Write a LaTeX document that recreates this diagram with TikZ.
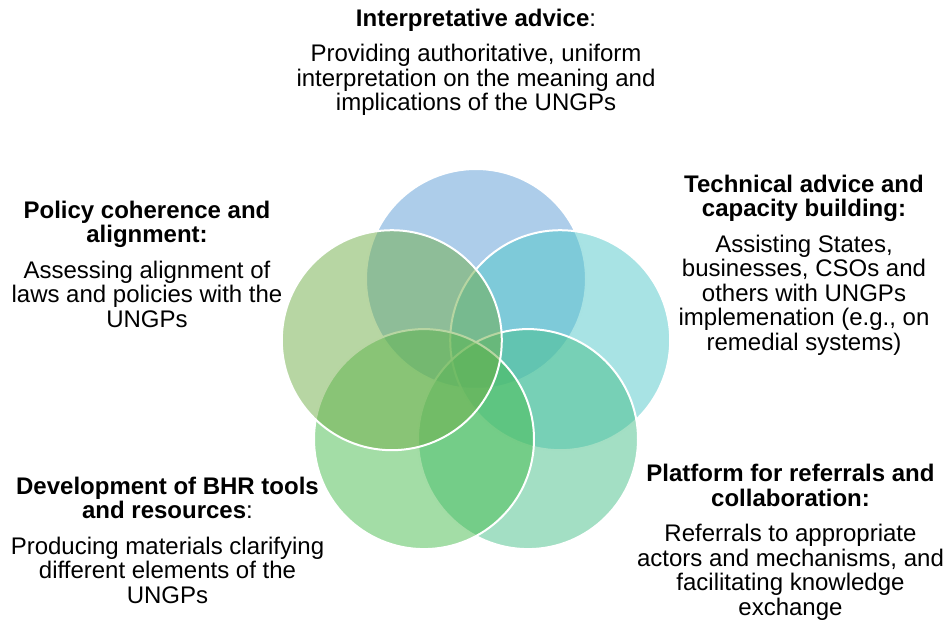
\documentclass[tikz,border=0pt]{standalone}
\usepackage{fontspec}
\setmainfont{Liberation Sans}
\definecolor{cTop}{HTML}{5B9BD5}
\definecolor{cRight}{HTML}{51C7C9}
\definecolor{cLowRight}{HTML}{47BF89}
\definecolor{cLowLeft}{HTML}{47BB4D}
\definecolor{cLeft}{HTML}{70AD47}
\begin{document}
\begin{tikzpicture}[x=1pt, y=-1pt,
  ring/.style={circle, minimum size=220pt, inner sep=0pt, draw=white,
    line width=2pt, fill opacity=0.5},
  % anchored at the baseline of the last line of each block
  blurb/.style={align=center, anchor=base, inner sep=0pt, text=black,
    font=\fontsize{24}{24.5}\selectfont}]
\useasboundingbox (0,0) rectangle (945,620);

% five overlapping circles, drawn clockwise from the top
\node[ring, fill=cTop]      (top)      at (476,279)   {};
\node[ring, fill=cRight]    (right)    at (560.2,340.2) {};
\node[ring, fill=cLowRight] (lowright) at (528,439.1) {};
\node[ring, fill=cLowLeft]  (lowleft)  at (424,439.1) {};
\node[ring, fill=cLeft]     (left)     at (391.8,340.2) {};

% descriptions
\node[blurb] (ttop) at (476,111)
  {\textbf{Interpretative advice}:\\[11pt]Providing authoritative, uniform\\interpretation on the meaning and\\implications of the UNGPs};
\node[blurb] (tleft) at (147,327)
  {\textbf{Policy coherence and}\\\textbf{alignment:}\\[11pt]Assessing alignment of\\laws and policies with the\\UNGPs};
\node[blurb] (tright) at (804,350)
  {\textbf{Technical advice and}\\\textbf{capacity building:}\\[11pt]Assisting States,\\businesses, CSOs and\\others with UNGPs\\implemenation (e.g., on\\remedial systems)};
\node[blurb] (tlowleft) at (167.5,603)
  {\textbf{Development of BHR tools}\\\textbf{and resources}:\\[11pt]Producing materials clarifying\\different elements of the\\UNGPs};
\node[blurb] (tlowright) at (790.5,615)
  {\textbf{Platform for referrals and}\\\textbf{collaboration:}\\[11pt]Referrals to appropriate\\actors and mechanisms, and\\facilitating knowledge\\exchange};
\end{tikzpicture}
\end{document}
